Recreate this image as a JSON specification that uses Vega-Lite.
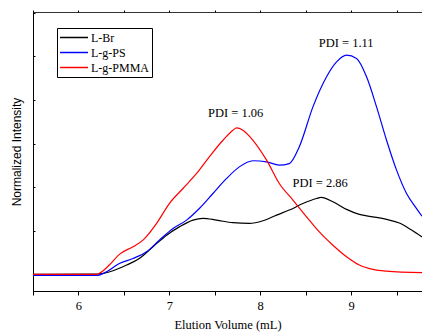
{
  "$schema": "https://vega.github.io/schema/vega-lite/v6.json",
  "width": 389,
  "height": 279,
  "padding": {"left": 33, "top": 12, "right": 0, "bottom": 44},
  "autosize": {"type": "none"},
  "config": {
    "view": {"stroke": "#333", "strokeWidth": 1},
    "axis": {"grid": false, "domainColor": "#000", "tickColor": "#000"}
  },
  "datasets": {
    "curves": [
      {"s": "L-Br", "x": 5.5, "y": 0.0},
      {"s": "L-Br", "x": 6.2, "y": 0.002},
      {"s": "L-Br", "x": 6.38, "y": 0.017},
      {"s": "L-Br", "x": 6.53, "y": 0.043},
      {"s": "L-Br", "x": 6.67, "y": 0.073},
      {"s": "L-Br", "x": 6.82, "y": 0.127},
      {"s": "L-Br", "x": 6.97, "y": 0.18},
      {"s": "L-Br", "x": 7.11, "y": 0.218},
      {"s": "L-Br", "x": 7.26, "y": 0.249},
      {"s": "L-Br", "x": 7.37, "y": 0.257},
      {"s": "L-Br", "x": 7.52, "y": 0.249},
      {"s": "L-Br", "x": 7.7, "y": 0.237},
      {"s": "L-Br", "x": 7.88, "y": 0.234},
      {"s": "L-Br", "x": 8.03, "y": 0.246},
      {"s": "L-Br", "x": 8.18, "y": 0.272},
      {"s": "L-Br", "x": 8.32, "y": 0.295},
      {"s": "L-Br", "x": 8.47, "y": 0.325},
      {"s": "L-Br", "x": 8.62, "y": 0.348},
      {"s": "L-Br", "x": 8.67, "y": 0.353},
      {"s": "L-Br", "x": 8.8, "y": 0.333},
      {"s": "L-Br", "x": 8.95, "y": 0.298},
      {"s": "L-Br", "x": 9.09, "y": 0.275},
      {"s": "L-Br", "x": 9.24, "y": 0.264},
      {"s": "L-Br", "x": 9.39, "y": 0.252},
      {"s": "L-Br", "x": 9.53, "y": 0.236},
      {"s": "L-Br", "x": 9.66, "y": 0.205},
      {"s": "L-Br", "x": 9.78, "y": 0.172},
      {"s": "L-g-PS", "x": 5.5, "y": -0.005},
      {"s": "L-g-PS", "x": 6.2, "y": -0.005},
      {"s": "L-g-PS", "x": 6.31, "y": 0.012},
      {"s": "L-g-PS", "x": 6.45, "y": 0.05},
      {"s": "L-g-PS", "x": 6.6, "y": 0.073},
      {"s": "L-g-PS", "x": 6.75, "y": 0.104},
      {"s": "L-g-PS", "x": 6.89, "y": 0.157},
      {"s": "L-g-PS", "x": 7.04, "y": 0.211},
      {"s": "L-g-PS", "x": 7.19, "y": 0.249},
      {"s": "L-g-PS", "x": 7.33, "y": 0.302},
      {"s": "L-g-PS", "x": 7.48, "y": 0.371},
      {"s": "L-g-PS", "x": 7.63, "y": 0.44},
      {"s": "L-g-PS", "x": 7.77, "y": 0.493},
      {"s": "L-g-PS", "x": 7.92, "y": 0.521},
      {"s": "L-g-PS", "x": 8.07, "y": 0.516},
      {"s": "L-g-PS", "x": 8.21, "y": 0.501},
      {"s": "L-g-PS", "x": 8.32, "y": 0.508},
      {"s": "L-g-PS", "x": 8.43, "y": 0.585},
      {"s": "L-g-PS", "x": 8.58, "y": 0.768},
      {"s": "L-g-PS", "x": 8.73, "y": 0.906},
      {"s": "L-g-PS", "x": 8.84, "y": 0.974},
      {"s": "L-g-PS", "x": 8.95, "y": 1.005},
      {"s": "L-g-PS", "x": 9.06, "y": 0.99},
      {"s": "L-g-PS", "x": 9.17, "y": 0.906},
      {"s": "L-g-PS", "x": 9.28, "y": 0.768},
      {"s": "L-g-PS", "x": 9.39, "y": 0.615},
      {"s": "L-g-PS", "x": 9.5, "y": 0.478},
      {"s": "L-g-PS", "x": 9.61, "y": 0.371},
      {"s": "L-g-PS", "x": 9.72, "y": 0.302},
      {"s": "L-g-PS", "x": 9.78, "y": 0.267},
      {"s": "L-g-PMMA", "x": 5.5, "y": 0.0},
      {"s": "L-g-PMMA", "x": 6.2, "y": 0.0},
      {"s": "L-g-PMMA", "x": 6.23, "y": 0.005},
      {"s": "L-g-PMMA", "x": 6.34, "y": 0.043},
      {"s": "L-g-PMMA", "x": 6.45, "y": 0.092},
      {"s": "L-g-PMMA", "x": 6.6, "y": 0.127},
      {"s": "L-g-PMMA", "x": 6.71, "y": 0.157},
      {"s": "L-g-PMMA", "x": 6.86, "y": 0.234},
      {"s": "L-g-PMMA", "x": 7.0, "y": 0.325},
      {"s": "L-g-PMMA", "x": 7.15, "y": 0.394},
      {"s": "L-g-PMMA", "x": 7.3, "y": 0.463},
      {"s": "L-g-PMMA", "x": 7.44, "y": 0.539},
      {"s": "L-g-PMMA", "x": 7.59, "y": 0.615},
      {"s": "L-g-PMMA", "x": 7.7, "y": 0.661},
      {"s": "L-g-PMMA", "x": 7.74, "y": 0.672},
      {"s": "L-g-PMMA", "x": 7.81, "y": 0.661},
      {"s": "L-g-PMMA", "x": 7.92, "y": 0.615},
      {"s": "L-g-PMMA", "x": 8.07, "y": 0.524},
      {"s": "L-g-PMMA", "x": 8.21, "y": 0.417},
      {"s": "L-g-PMMA", "x": 8.36, "y": 0.341},
      {"s": "L-g-PMMA", "x": 8.51, "y": 0.264},
      {"s": "L-g-PMMA", "x": 8.65, "y": 0.195},
      {"s": "L-g-PMMA", "x": 8.8, "y": 0.134},
      {"s": "L-g-PMMA", "x": 8.95, "y": 0.081},
      {"s": "L-g-PMMA", "x": 9.09, "y": 0.043},
      {"s": "L-g-PMMA", "x": 9.24, "y": 0.023},
      {"s": "L-g-PMMA", "x": 9.39, "y": 0.015},
      {"s": "L-g-PMMA", "x": 9.78, "y": 0.008}
    ],
    "labels": [
      {"x": 7.73, "y": 0.742, "t": "PDI = 1.06"},
      {"x": 8.945, "y": 1.063, "t": "PDI = 1.11"},
      {"x": 8.66, "y": 0.421, "t": "PDI = 2.86"}
    ]
  },
  "layer": [
    {
      "data": {"name": "curves"},
      "mark": {"type": "line", "interpolate": "monotone", "strokeWidth": 1.2, "clip": true},
      "encoding": {
        "x": {
          "field": "x", "type": "quantitative",
          "scale": {"domain": [5.5, 9.78], "nice": false, "zero": false},
          "axis": {
            "orient": "bottom",
            "values": [5.5, 6, 6.5, 7, 7.5, 8, 8.5, 9, 9.5],
            "labelExpr": "datum.value % 1 == 0 ? format(datum.value, 'd') : ''",
            "tickSize": 4, "labelPadding": 4,
            "labelFont": "Liberation Serif", "labelFontSize": 12.5, "labelColor": "#000",
            "title": "Elution Volume (mL)",
            "titleFont": "Liberation Serif", "titleFontSize": 12.5, "titleFontWeight": "normal",
            "titleColor": "#000", "titlePadding": 7
          }
        },
        "y": {
          "field": "y", "type": "quantitative",
          "scale": {"domain": [-0.076, 1.203], "nice": false, "zero": false},
          "axis": {
            "values": [0, 0.2, 0.4, 0.6, 0.8, 1.0, 1.2],
            "labels": false, "tickSize": -2,
            "title": "Normalized Intensity",
            "titleFont": "Liberation Sans", "titleFontSize": 12, "titleFontWeight": "normal",
            "titleColor": "#000", "titlePadding": 9
          }
        },
        "color": {
          "field": "s", "type": "nominal",
          "scale": {"domain": ["L-Br", "L-g-PS", "L-g-PMMA"], "range": ["#000000", "#0000ff", "#ff0000"]},
          "legend": {
            "title": null, "orient": "none", "legendX": 24, "legendY": 16,
            "symbolType": "stroke", "symbolSize": 784, "symbolStrokeWidth": 1.5,
            "clipHeight": 15, "rowPadding": 0,
            "labelFont": "Liberation Serif", "labelFontSize": 12, "labelColor": "#000", "labelOffset": 2,
            "strokeColor": "#000", "padding": 2, "fillColor": "#fff"
          }
        }
      }
    },
    {
      "data": {"name": "labels"},
      "mark": {"type": "text", "font": "Liberation Serif", "fontSize": 12.5, "color": "#000"},
      "encoding": {
        "x": {
          "field": "x", "type": "quantitative",
          "scale": {"domain": [5.5, 9.78], "nice": false, "zero": false},
          "axis": {"orient": "top", "values": [5.5, 6, 6.5, 7, 7.5, 8, 8.5, 9, 9.5], "labels": false, "tickSize": 2, "title": null, "domain": false}
        },
        "y": {"field": "y", "type": "quantitative"},
        "text": {"field": "t"}
      }
    }
  ],
  "resolve": {"axis": {"x": "independent"}}
}
